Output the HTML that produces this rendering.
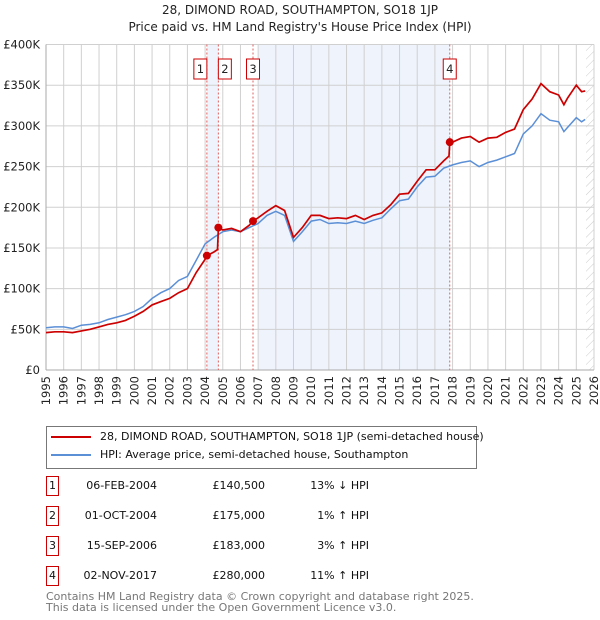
<!DOCTYPE html>
<html><head><meta charset="utf-8"><style>
body{margin:0;background:#fff;font-family:"DejaVu Sans","Liberation Sans",sans-serif;}
#wrap{position:relative;width:600px;height:620px;overflow:hidden;}
.t{position:absolute;white-space:nowrap;}
</style></head><body>
<div id="wrap">
<svg id="chart" width="600" height="620" style="position:absolute;left:0;top:0"></svg>
<div class="t" style="left:0;width:600px;text-align:center;top:3px;font-size:12px;color:#222">28, DIMOND ROAD, SOUTHAMPTON, SO18 1JP</div>
<div class="t" style="left:0;width:600px;text-align:center;top:20px;font-size:12px;color:#222">Price paid vs. HM Land Registry's House Price Index (HPI)</div>
<div style="position:absolute;left:46px;top:426px;width:431px;height:43px;border:1px solid #777;box-sizing:border-box;font-size:11px;color:#111">
  <div style="position:absolute;left:4px;top:3px;white-space:nowrap"><span style="display:inline-block;width:40px;height:2px;background:#cc0000;vertical-align:middle;margin-right:9px"></span>28, DIMOND ROAD, SOUTHAMPTON, SO18 1JP (semi-detached house)</div>
  <div style="position:absolute;left:4px;top:21px;white-space:nowrap"><span style="display:inline-block;width:40px;height:2px;background:#5b8fd6;vertical-align:middle;margin-right:9px"></span>HPI: Average price, semi-detached house, Southampton</div>
</div>
<div id="table"></div>
<div class="t" style="left:46px;top:591px;font-size:11px;color:#777;line-height:11px">Contains HM Land Registry data © Crown copyright and database right 2025.<br>This data is licensed under the Open Government Licence v3.0.</div>
</div>
<script>
const hpiT=[1995,1995.5,1996,1996.5,1997,1997.5,1998,1998.5,1999,1999.5,2000,2000.5,2001,2001.5,2002,2002.5,2003,2003.5,2004,2004.5,2005,2005.5,2006,2006.5,2007,2007.5,2008,2008.5,2009,2009.5,2010,2010.5,2011,2011.5,2012,2012.5,2013,2013.5,2014,2014.5,2015,2015.5,2016,2016.5,2017,2017.5,2018,2018.5,2019,2019.5,2020,2020.5,2021,2021.5,2022,2022.5,2023,2023.5,2024,2024.3,2024.5,2025,2025.3,2025.5];
const hpiV=[52,53,53,51,55,56,58,62,65,68,72,78,88,95,100,110,115,135,155,163,170,172,170,175,180,190,195,190,158,170,183,185,180,181,180,183,180,184,187,198,208,210,225,237,238,248,252,255,257,250,255,258,262,266,290,300,315,307,305,293,298,310,305,308];
const redT=[1995,1995.5,1996,1996.5,1997,1997.5,1998,1998.5,1999,1999.5,2000,2000.5,2001,2001.5,2002,2002.5,2003,2003.5,2004,2004.1,2004.5,2004.7,2004.75,2005,2005.5,2006,2006.5,2006.7,2007,2007.5,2008,2008.5,2009,2009.5,2010,2010.5,2011,2011.5,2012,2012.5,2013,2013.5,2014,2014.5,2015,2015.5,2016,2016.5,2017,2017.5,2017.8,2017.84,2018,2018.5,2019,2019.5,2020,2020.5,2021,2021.5,2022,2022.5,2023,2023.5,2024,2024.3,2024.5,2025,2025.3,2025.5];
const redV=[46,47,47,46,48,50,53,56,58,61,66,72,80,84,88,95,100,120,136,140.5,145,148,175,172,174,170,178,183,187,195,202,196,163,175,190,190,186,187,186,190,185,190,193,203,216,217,232,246,246,257,263,280,280,285,287,280,285,286,292,296,320,333,352,342,338,326,334,350,342,343];
const saleT=[2004.1,2004.75,2006.71,2017.84];
const saleV=[140.5,175,183,280];
const saleLabels=["1","2","3","4"];
const saleDates=["06-FEB-2004","01-OCT-2004","15-SEP-2006","02-NOV-2017"];
const salePrices=["£140,500","£175,000","£183,000","£280,000"];
const saleHpi=["13% ↓ HPI","1% ↑ HPI","3% ↑ HPI","11% ↑ HPI"];
const yTicks=[0,50,100,150,200,250,300,350,400];
const yTickLabels=["£0","£50K","£100K","£150K","£200K","£250K","£300K","£350K","£400K"];
const xYears=[];for(let y=1995;y<=2026;y++)xYears.push(y);

const X0=46,X1=594,Y0=370,Y1=44.5;
const FF='DejaVu Sans, Liberation Sans, sans-serif';
const x=t=>X0+(t-1995)/(2026-1995)*(X1-X0);
const y=v=>Y0-v/400*(Y0-Y1);
const NS="http://www.w3.org/2000/svg";
const svg=document.getElementById('chart');
function mk(tag,attrs,parent){const e=document.createElementNS(NS,tag);for(const k in attrs)e.setAttribute(k,attrs[k]);(parent||svg).appendChild(e);return e;}

let r=mk('rect',{x:x(saleT[0]),y:Y1,width:x(saleT[1])-x(saleT[0]),height:Y0-Y1,fill:'#eef3fc'});


r=mk('rect',{x:x(2007),y:Y1,width:x(saleT[3])-x(2007),height:Y0-Y1,fill:'#eef3fc'});


const defs=mk('defs',{});
const pat=mk('pattern',{id:'hatch',width:6,height:6,patternUnits:'userSpaceOnUse',patternTransform:'rotate(45)'},defs);
mk('line',{x1:0,y1:0,x2:0,y2:6,stroke:'#ccc','stroke-width':1},pat);
r=mk('rect',{x:x(2025.55),y:Y1,width:X1-x(2025.55),height:Y0-Y1,fill:'url(#hatch)'});



xYears.forEach(yr=>{
  const g=mk('line',{x1:x(yr),x2:x(yr),y1:Y1,y2:Y0,stroke:'#d0d0d0','stroke-width':1});
  
  
  const tl=mk('text',{x:0,y:0,transform:`translate(${x(yr)+4},${Y0+6}) rotate(-90)`,'text-anchor':'end','font-size':11.5,fill:'#222','font-family':FF});
  tl.textContent=yr;
  
  
});
yTicks.forEach((v,i)=>{
  const g=mk('line',{x1:X0,x2:X1,y1:y(v),y2:y(v),stroke:'#d0d0d0','stroke-width':1});
  
  
  const tl=mk('text',{x:X0-6,y:y(v)+4,'text-anchor':'end','font-size':11.5,fill:'#222','font-family':FF});
  tl.textContent=yTickLabels[i];
  
  
});
let ax=mk('line',{x1:X0,x2:X1,y1:Y0,y2:Y0,stroke:'#aaa'});


ax=mk('line',{x1:X0,x2:X0,y1:Y1,y2:Y0,stroke:'#aaa'});



saleT.forEach((t,i)=>{
  const l=mk('line',{x1:x(t),x2:x(t),y1:Y1,y2:Y0,stroke:'#e06060','stroke-width':1,'stroke-dasharray':'2,2'});
  
  
});

function path(T,V){return T.map((t,i)=>(i?'L':'M')+x(t).toFixed(1)+','+y(V[i]).toFixed(1)).join('');}
let p=mk('path',{d:path(hpiT,hpiV),fill:'none',stroke:'#5b8fd6','stroke-width':1.5});


p=mk('path',{d:path(redT,redV),fill:'none',stroke:'#cc0000','stroke-width':1.7});



const offs=[-6.5,6.5,0,0];
saleT.forEach((t,i)=>{
  const c=mk('circle',{cx:x(t),cy:y(saleV[i]),r:4,fill:'#cc0000'});
  
  
  const bx=x(t)+offs[i]-6.5;
  const b=mk('rect',{x:bx,y:59,width:13,height:20,fill:'#fff',stroke:'#cc0000','stroke-width':1});
  
  
  const tx=mk('text',{x:bx+6.5,y:73,'text-anchor':'middle','font-size':11.5,fill:'#222','font-family':FF});
  tx.textContent=saleLabels[i];
  
  
});

const tb=document.getElementById('table');
saleLabels.forEach((lab,i)=>{
  const top=476+i*30;
  const row=document.createElement('div');
  
  
  row.style.cssText=`position:absolute;left:0;top:${top}px;width:600px;height:22px;font-size:11px;color:#111`;
  row.innerHTML=`<div style="position:absolute;left:46px;top:0;width:13px;height:20px;border:1px solid #cc0000;box-sizing:border-box;text-align:center;line-height:18px">${lab}</div>
  <div style="position:absolute;left:60px;width:97px;text-align:right;top:3px">${saleDates[i]}</div>
  <div style="position:absolute;left:170px;width:95px;text-align:right;top:3px">${salePrices[i]}</div>
  <div style="position:absolute;left:270px;width:99px;text-align:right;top:3px">${saleHpi[i]}</div>`;
  tb.appendChild(row);
});
</script>
</body></html>
